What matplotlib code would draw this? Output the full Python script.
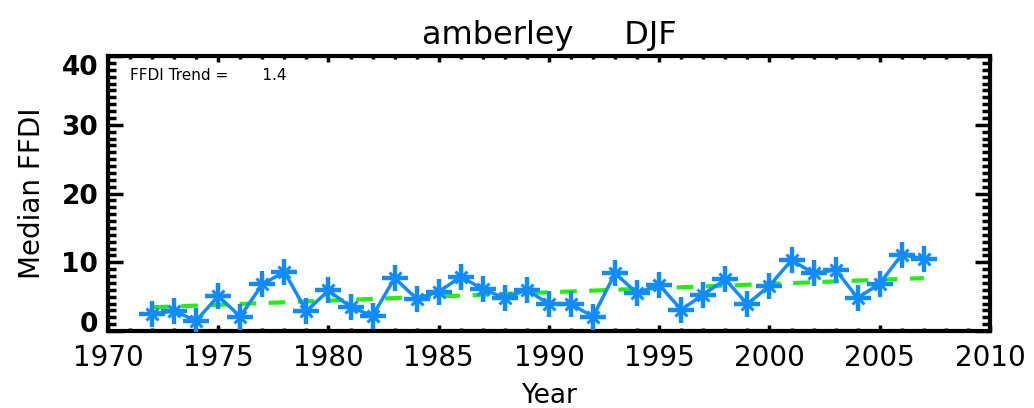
import matplotlib
matplotlib.use("Agg")
import matplotlib.pyplot as plt
import matplotlib.transforms as mtransforms
import numpy as np
from matplotlib.ticker import MultipleLocator

years = [1972, 1973, 1974, 1975, 1976, 1977, 1978, 1979, 1980, 1981, 1982, 1983,
         1984, 1985, 1986, 1987, 1988, 1989, 1990, 1991, 1992, 1993, 1994, 1995,
         1996, 1997, 1998, 1999, 2000, 2001, 2002, 2003, 2004, 2005, 2006, 2007]
ffdi = [2.5, 2.9, 1.5, 5.1, 2.1, 6.8, 8.6, 2.9, 5.9, 3.5, 2.2, 7.7,
        4.7, 5.7, 7.9, 6.1, 4.8, 6.0, 3.9, 3.9, 2.1, 8.4, 5.5, 6.7,
        3.1, 5.3, 7.5, 3.9, 6.6, 10.3, 8.4, 8.9, 4.8, 6.9, 11.1, 10.5]
trend_years = [1972, 2007]
trend_values = [3.45, 7.7]
x_ticks = [1970, 1975, 1980, 1985, 1990, 1995, 2000, 2005, 2010]
y_ticks = [0, 10, 20, 30, 40]
title = "amberley     DJF"
trend_label = "FFDI Trend =       1.4"

fig = plt.figure(figsize=(10.34, 4.08), dpi=100)
ax = fig.add_axes([0.1044, 0.1887, 0.8530, 0.6740])

ax.plot(trend_years, trend_values, color="#22ee11", lw=3, ls=(0, (4, 3)), zorder=2)
ax.plot(years, ffdi, color="#118cff", lw=2.5, zorder=3)
ax.plot(years, ffdi, ls="none", marker="+", ms=19, mew=3.2, color="#118cff", zorder=4)
ax.plot(years, ffdi, ls="none", marker="x", ms=9, mew=2.2, color="#118cff", zorder=4)

ax.set_xlim(1970, 2010)
ax.set_ylim(0, 40)
ax.set_xticks(x_ticks)
ax.set_yticks(y_ticks)
ax.xaxis.set_minor_locator(MultipleLocator(1))
ax.yaxis.set_minor_locator(MultipleLocator(1))

for s in ax.spines.values():
    s.set_linewidth(3)
ax.tick_params(axis="both", which="both", direction="in", top=True, right=True, color="black")
ax.tick_params(axis="y", which="major", length=11, width=2.5)
ax.tick_params(axis="y", which="minor", length=6, width=2.5)
ax.tick_params(axis="x", which="major", length=4, width=2.5)
ax.tick_params(axis="x", which="minor", length=2, width=2.5)

fam = ["DejaVu Sans"]
ax.set_xticklabels([str(t) for t in x_ticks], fontsize=20, family=fam)
ax.set_yticklabels([str(t) for t in y_ticks], fontsize=19, family=fam, fontweight="bold")
ax.tick_params(axis="x", pad=9)
ax.tick_params(axis="y", pad=7)

ylabels = ax.get_yticklabels()
ylabels[0].set_transform(ylabels[0].get_transform() +
                         mtransforms.ScaledTranslation(0, 9 / 100, fig.dpi_scale_trans))
ylabels[-1].set_transform(ylabels[-1].get_transform() +
                          mtransforms.ScaledTranslation(0, -9 / 100, fig.dpi_scale_trans))

ax.set_title(title, fontsize=23, family=fam, pad=9)
ax.set_xlabel("Year", fontsize=19, family=fam, labelpad=8)
ax.set_ylabel("Median FFDI", fontsize=20, family=fam, labelpad=11)
ax.text(0.025, 0.955, trend_label, transform=ax.transAxes, fontsize=11, family=fam,
        va="top", ha="left")

fig.savefig("out.png", dpi=100)
